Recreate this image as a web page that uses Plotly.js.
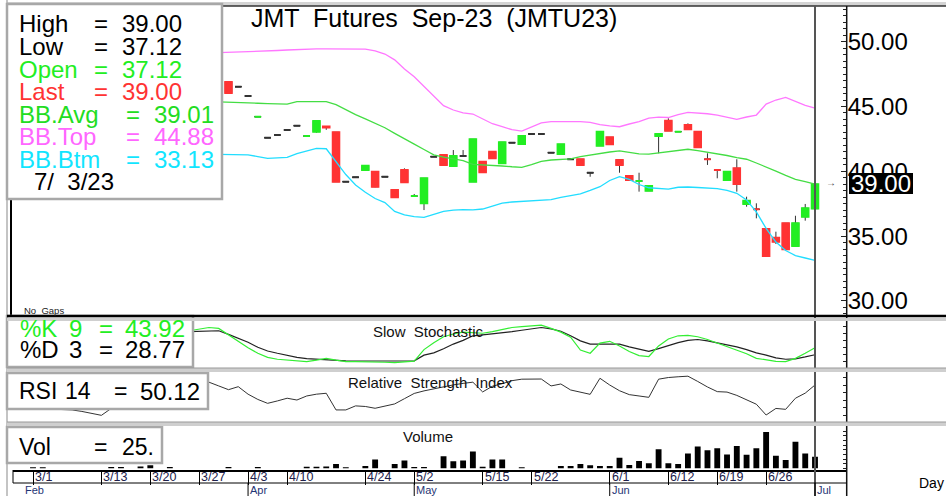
<!DOCTYPE html>
<html><head><meta charset="utf-8">
<script src="https://cdn.plot.ly/plotly-3.0.1.min.js"></script>
<style>html,body{margin:0;padding:0;background:#fff;overflow:hidden}#chart{width:946px;height:496px}</style>
</head><body><div id="chart"></div>
<script>
// ---------------- DATA ----------------
const candleIdx   = [20,21,22,23,24,25,26,27,28,29,30,31,32,33,34,35,36,37,38,39,40,41,42,43,44,45,46,47,48,49,50,51,52,53,54,55,56,57,58,59,60,61,62,63,64,65,66,67,68,69,70,71,72,73,74,75,76,77,78,79,80];
const candleOpen  = [46.90,46.53,45.81,44.21,42.59,42.80,43.19,43.52,42.72,43.06,43.45,43.01,39.20,39.54,40.10,39.97,39.58,38.56,40.10,38.09,37.53,41.13,41.26,40.41,41.18,39.20,40.74,41.51,40.62,42.21,42.11,42.88,42.88,41.44,41.33,40.93,40.93,39.89,41.98,42.62,40.87,39.64,39.25,38.50,42.72,43.90,43.06,43.57,43.06,40.93,40.10,39.33,40.23,37.48,37.07,35.55,34.88,35.99,34.24,36.50,37.12];
const candleHigh  = [46.90,46.53,45.81,44.21,42.59,42.80,43.19,43.52,42.72,43.88,43.45,43.01,39.20,39.54,40.43,39.97,39.58,38.56,40.23,38.25,39.46,41.13,41.26,41.64,41.64,42.47,40.74,41.51,42.24,42.21,42.72,42.88,42.88,41.44,42.08,40.93,40.93,39.89,43.06,42.62,40.87,39.64,39.89,38.87,42.88,44.09,43.06,43.70,43.06,41.39,40.10,39.97,40.93,38.04,37.53,35.55,35.34,35.99,36.57,37.48,39.00];
const candleLow   = [46.05,46.53,45.81,44.21,42.59,42.80,43.19,43.52,42.72,42.98,43.20,39.20,39.20,39.54,40.10,38.77,39.58,37.99,39.15,38.09,37.01,41.13,40.49,40.41,41.18,39.20,39.92,41.00,40.62,42.21,42.11,42.88,42.88,41.44,41.33,40.93,40.49,39.58,41.98,42.08,39.89,39.33,38.43,38.50,41.39,43.13,43.06,43.24,41.85,40.49,39.46,39.33,38.43,37.27,36.37,33.41,34.39,33.93,34.24,36.19,37.12];
const candleClose = [46.05,46.53,45.81,44.21,42.59,42.80,43.19,43.52,42.72,43.88,43.38,39.20,39.20,39.54,40.43,38.81,39.58,37.99,39.15,38.09,39.46,41.13,40.49,41.18,41.18,42.47,39.92,41.00,42.24,42.21,42.72,42.88,42.88,41.44,42.08,40.93,40.49,39.89,43.06,42.08,40.49,39.33,39.25,38.87,42.88,43.13,43.06,43.24,41.85,40.93,40.10,39.97,39.02,37.73,37.07,33.46,34.57,33.98,35.99,37.15,39.00];
const candleTone  = ['R','K','K','G','K','K','K','K','G','G','R','R','K','K','G','R','K','R','R','G','G','K','R','G','K','G','R','R','G','K','G','K','K','K','G','K','R','K','G','R','R','R','G','G','G','R','G','R','R','R','R','G','R','G','R','R','R','R','G','G','G'];

const bbIdx = [19,20,21,22,23,24,25,26,27,28,29,30,31,32,33,34,35,36,37,38,39,40,41,42,43,44,45,46,47,48,49,50,51,52,53,54,55,56,57,58,59,60,61,62,63,64,65,66,67,68,69,70,71,72,73,74,75,76,77,78,79,80];
const bbTop = [49.15,49.17,49.20,49.22,49.25,49.28,49.32,49.36,49.40,49.42,49.44,49.45,49.45,49.45,49.45,49.42,49.30,49.05,48.60,47.90,47.30,46.55,45.80,45.07,44.73,44.50,44.42,44.03,43.67,43.44,43.21,43.10,43.42,43.73,43.83,43.84,43.84,43.84,43.77,43.60,43.50,43.44,43.65,43.83,44.10,44.18,44.15,44.38,44.54,44.50,44.44,44.34,44.19,44.01,44.19,44.34,45.19,45.50,45.70,45.42,45.08,44.88];
const bbAvg = [45.36,45.32,45.29,45.27,45.25,45.22,45.21,45.19,45.37,45.37,45.37,45.37,45.14,44.73,44.37,44.04,43.70,43.36,42.93,42.49,42.10,41.68,41.27,41.10,40.99,40.83,40.54,40.51,40.47,40.41,40.35,40.31,40.52,40.76,40.87,40.91,40.96,41.13,41.26,41.37,41.49,41.58,41.45,41.35,41.33,41.43,41.50,41.62,41.70,41.60,41.49,41.37,41.22,41.06,40.93,40.64,40.35,40.02,39.68,39.38,39.20,39.01];
const bbBtm = [41.31,41.30,41.28,41.26,41.14,41.00,41.04,41.08,41.37,41.58,41.77,41.74,40.72,39.75,38.94,38.38,37.90,37.59,36.90,36.63,36.51,36.44,36.67,36.90,37.01,37.05,37.03,37.09,37.32,37.55,37.63,37.68,37.72,37.76,37.82,37.98,38.13,38.25,38.52,38.81,39.29,39.58,39.37,38.98,38.73,38.67,38.63,38.77,38.79,38.75,38.70,38.67,38.52,38.30,37.79,36.86,35.59,34.54,33.89,33.50,33.31,33.13];

const stochIdx = [16,17,18,19,20,21,22,23,24,25,26,27,28,29,30,31,32,33,34,35,36,37,38,39,40,41,42,43,44,45,46,47,48,49,50,51,52,53,54,55,56,57,58,59,60,61,62,63,64,65,66,67,68,69,70,71,72,73,74,75,76,77,78,79,80];
const stochK = [81,84,88,86,72,58,44,32,23,19,17,15,13.7,17,21,17,14,13.7,13.7,13.7,12.5,11.5,13,15,40,55,68,74,78,77,75.5,79,84,88,90,92,93,86,78,67,39,32,54,58,48,36,27,25,48,63,70,71,68,62,54,46,39,31,21,17,14.5,14,21,32,43.92];
const stochD = [79,80,80.5,81,73,65,56,45,37,32,27,23,20.5,19,17.5,16.5,15.5,15.2,15.2,15.2,15.2,15.2,15.2,15.5,28,33,42,52,60,70,72,74,76.5,79,82,85,88,85,80,70,59,52,52,52,52,46,41,36,42,49,55,60,62,59,55,51,46,40,33,28,22,19,20,24,28.77];

const rsiIdx = [0,1,2,3,4,5,6,7,8,9,10,11,12,13,14,15,16,17,18,19,20,21,22,23,24,25,26,27,28,29,30,31,32,33,34,35,36,37,38,39,40,41,42,43,44,45,46,47,48,49,50,51,52,53,54,55,56,57,58,59,60,61,62,63,64,65,66,67,68,69,70,71,72,73,74,75,76,77,78,79,80];
const rsiVal = [36,34.5,34,34,33.5,32.5,31.2,29.9,34.5,40,44,46,47,48,50,52,53,52.5,52,49.5,47,49,44,40.5,37.9,39.5,41.3,40.1,42.8,44,44.6,33.5,33.5,36.2,35.8,34.6,35.8,37.5,41,44.5,46.2,47.5,49.3,50.2,51.2,52,45.5,49.3,51,53,54,54.1,54.1,49.5,50.8,46.8,45.3,43.9,54.6,50.1,46.3,43.7,42.8,41.9,54,55.1,55.6,56,52.5,48.8,45.7,45.4,43.2,40.3,37.3,30.1,34.5,33.9,41.3,44.7,50.12];

const volIdx = [0,1,8,9,11,12,14,20,23,28,29,30,31,32,34,35,37,38,39,40,42,43,44,45,46,47,48,50,54,55,56,57,58,59,60,61,62,63,64,65,66,67,68,69,70,71,72,73,74,75,76,77,78,79,80];
const volVal = [2,2,3,3,4,6.5,3,3,3,3.5,3.5,4,9,2,5,19,9,17,3,3,26,15,17,36,3.5,19,19,2,5,5,9,6.5,5,5,23,7,16,11,41,11,9,32,47,39,43,30,48,29,43,78,27,18,57,32,25];

const dateIdx  = [0,7,12,17,22,26,34,39,46,51,59,65,70,75];
const dateText = ['3/1','3/13','3/20','3/27','4/3','4/10','4/24','5/2','5/15','5/22','6/1','6/12','6/19','6/26'];
const monthIdx  = [-1,22,39,59,80];
const monthText = ['Feb','Apr','May','Jun','Jul'];

const chartTitle = 'JMT  Futures  Sep-23  (JMTU23)';
const lastInfo = {high:'39.00', low:'37.12', open:'37.12', last:'39.00', avg:'39.01', top:'44.88', btm:'33.13', date:'7/  3/23'};
const stochInfo = {k:'43.92', d:'28.77'};
const rsiInfo = '50.12';
const volInfo = '25.';

// ---------------- LAYOUT HELPERS ----------------
const W = 946, H = 496;
const px = v => v / W;
const py = v => 1 - v / H;
const F = 'Liberation Sans, Arial, sans-serif';
const X0 = 33, DX = 9.775;          // pixel of bar 0, bar spacing
const XL = 13, XR = 846.7;          // plot left / right axis pixel
const xRange = [(XL - X0) / DX, (XR - X0) / DX];
const pAt = y => 50 - (y - 41.7) / 12.96;
const priceRange = [pAt(316), pAt(6)];
const stochRange = [0, (368 - 321) / 0.46];
const rsiRange = [50.12 - (423 - 385) / 1.5, 50.12 + (385 - 372) / 1.5];
const volRange = [-(470 - 468.3) / 0.464, (468.3 - 426) / 0.464];

const COL = {G:'#22ee22', R:'#ff3333', K:'#333333'};

// ---------------- TRACES ----------------
const traces = [];
traces.push({type:'scatter', mode:'lines', x:bbIdx, y:bbTop, xaxis:'x', yaxis:'y', line:{color:'#ff77ff', width:1.3}, hoverinfo:'skip'});
traces.push({type:'scatter', mode:'lines', x:bbIdx, y:bbAvg, xaxis:'x', yaxis:'y', line:{color:'#44dd44', width:1.3}, hoverinfo:'skip'});
traces.push({type:'scatter', mode:'lines', x:bbIdx, y:bbBtm, xaxis:'x', yaxis:'y', line:{color:'#22ddff', width:1.3}, hoverinfo:'skip'});

traces.push({type:'candlestick', x:candleIdx, open:candleOpen, high:candleHigh, low:candleLow, close:candleClose,
  xaxis:'x', yaxis:'y', whiskerwidth:0, hoverinfo:'skip',
  increasing:{line:{color:'#333', width:1}, fillcolor:'#333'},
  decreasing:{line:{color:'#333', width:1}, fillcolor:'#333'}});
['K','R','G'].forEach(t => {
  const ix=[], o=[], c=[], h=[], l=[];
  candleIdx.forEach((v,k) => {
    if (candleTone[k] !== t) return;
    ix.push(v); o.push(candleOpen[k]); c.push(candleClose[k]);
    h.push(Math.max(candleOpen[k], candleClose[k])); l.push(Math.min(candleOpen[k], candleClose[k]));
  });
  traces.push({type:'candlestick', x:ix, open:o, high:h, low:l, close:c, xaxis:'x', yaxis:'y', whiskerwidth:0, hoverinfo:'skip',
    increasing:{line:{color:COL[t], width:2}, fillcolor:COL[t]},
    decreasing:{line:{color:COL[t], width:2}, fillcolor:COL[t]}});
});

traces.push({type:'scatter', mode:'lines', x:stochIdx, y:stochD, xaxis:'x', yaxis:'y2', line:{color:'#222', width:1.2}, hoverinfo:'skip'});
traces.push({type:'scatter', mode:'lines', x:stochIdx, y:stochK, xaxis:'x', yaxis:'y2', line:{color:'#33ee33', width:1.2}, hoverinfo:'skip'});
traces.push({type:'scatter', mode:'lines', x:rsiIdx, y:rsiVal, xaxis:'x', yaxis:'y3', line:{color:'#333', width:1}, hoverinfo:'skip'});
traces.push({type:'bar', x:volIdx, y:volVal, xaxis:'x', yaxis:'y4', width:0.6, marker:{color:'#000', line:{width:0}}, hoverinfo:'skip'});

// ---------------- SHAPES ----------------
function rectP(x0,y0,x1,y1,fill,line,lw){return {type:'rect',xref:'paper',yref:'paper',x0:px(x0),x1:px(x1),y0:py(y1),y1:py(y0),fillcolor:fill,line:{color:line||fill,width:lw||0},layer:'above'};}
function lineP(x0,y0,x1,y1,color,w){return {type:'line',xref:'paper',yref:'paper',x0:px(x0),x1:px(x1),y0:py(y0),y1:py(y1),line:{color:color,width:w},layer:'above'};}

const shapes = [];
shapes.push(rectP(7,2,946,6,'#d4d4d4'));
shapes.push(lineP(7,6,946,6,'#333',1.5));
shapes.push(lineP(7,0,7,496,'#b0b0b0',1.5));
shapes.push(lineP(11,6,11,316,'#000',2));
shapes.push({type:'line',xref:'x',yref:'paper',x0:candleIdx[candleIdx.length-1],x1:candleIdx[candleIdx.length-1],y0:py(6),y1:py(496),line:{color:'#555',width:2},layer:'above'});
shapes.push(lineP(XR,6,XR,496,'#111',1.5));
shapes.push(rectP(7,4,222,199,'#fff','#a8a8a8',2.5));
shapes.push(rectP(7,316,193,367,'#fff','#a8a8a8',2.5));
shapes.push(rectP(7,373,208,409,'#fff','#a8a8a8',2.5));
shapes.push(rectP(7,427,162,463,'#fff','#a8a8a8',2.5));
shapes.push(lineP(7,316,946,316,'#000',2.5));
shapes.push(rectP(7,318,946,321,'#cfcfcf'));
shapes.push(rectP(7,368,946,372,'#cfcfcf'));
shapes.push(lineP(7,368,946,368,'#999',1));
shapes.push(rectP(7,422,946,426,'#cfcfcf'));
shapes.push(lineP(7,422,946,422,'#999',1));
shapes.push(lineP(XL,483,XR,483,'#000',1));
shapes.push(lineP(XL,470,XL,483,'#000',1));
monthIdx.forEach(m => { if (m >= 0) shapes.push({type:'line',xref:'x',yref:'paper',x0:m,x1:m,y0:py(483),y1:py(496),line:{color:'#000',width:1},layer:'above'}); });
shapes.push(rectP(849,173,913,194,'#000'));

// ---------------- ANNOTATIONS ----------------
function T(x,y,text,color,size,anchor){return {xref:'paper',yref:'paper',x:px(x),y:py(y),text:text,showarrow:false,xanchor:anchor||'left',yanchor:'middle',font:{family:F,size:size,color:color}};}
const ann = [];
ann.push(T(249,18,chartTitle,'#000',25));
const rows = [
  ['High','=',lastInfo.high,'#000',23.3,92,120],
  ['Low','=',lastInfo.low,'#000',46,92,120],
  ['Open','=',lastInfo.open,'#22ee22',69,92,120],
  ['Last','=',lastInfo.last,'#ff3333',91.5,92,120],
  ['BB.Avg','=',lastInfo.avg,'#22dd22',114.3,124,152],
  ['BB.Top','=',lastInfo.top,'#ff66ff',136.7,124,152],
  ['BB.Btm','=',lastInfo.btm,'#11e5ff',159.3,124,152]];
rows.forEach(r => { ann.push(T(17,r[4],r[0],r[3],24)); ann.push(T(r[5],r[4],r[1],r[3],24)); ann.push(T(r[6],r[4],r[2],r[3],24)); });
ann.push(T(32,181.7,lastInfo.date,'#000',24));
ann.push(T(18,328,'%K','#22ee22',24)); ann.push(T(67,328,'9','#22ee22',24)); ann.push(T(97,328,'=','#22ee22',24)); ann.push(T(123,328,stochInfo.k,'#22ee22',24));
ann.push(T(18,349.5,'%D','#000',24)); ann.push(T(67,349.5,'3','#000',24)); ann.push(T(97,349.5,'=','#000',24)); ann.push(T(123,349.5,stochInfo.d,'#000',24));
ann.push(T(17,391,'RSI','#000',23)); ann.push(T(63,391,'14','#000',23)); ann.push(T(112,391,'=','#000',23)); ann.push(T(138,391,rsiInfo,'#000',24));
ann.push(T(17,446.5,'Vol','#000',23)); ann.push(T(92,446.5,'=','#000',23)); ann.push(T(120,446.5,volInfo,'#000',23));
ann.push(T(371,331.5,'Slow  Stochastic','#111',15));
ann.push(T(346,382,'Relative  Strength  Index','#111',15));
ann.push(T(401,436.7,'Volume','#111',15));
ann.push(T(22,310.5,'No  Gaps','#222',9.5));
ann.push(T(849,183.5,lastInfo.last,'#fff',24));
ann.push(T(838,183,'→','#444',10,'right'));
ann.push(T(917,483,'Day','#000',14));
dateIdx.forEach((d,k) => ann.push({xref:'x',yref:'paper',x:d,y:py(476.5),text:dateText[k],showarrow:false,xanchor:'left',yanchor:'middle',font:{family:F,size:12.5,color:'#20204a'}}));
monthIdx.forEach((m,k) => ann.push({xref:'x',yref:'paper',x:m,y:py(490),text:monthText[k],showarrow:false,xanchor:'left',yanchor:'middle',font:{family:F,size:11,color:'#1f3575'}}));

// ---------------- LAYOUT ----------------
const yCommon = {anchor:'free', position:px(XR), side:'right', showline:false, showgrid:false, zeroline:false, fixedrange:true, ticks:'inside', tickcolor:'#222'};
const layout = {
  width:W, height:H, margin:{l:0,r:0,t:0,b:0}, paper_bgcolor:'#fff', plot_bgcolor:'#fff',
  showlegend:false, hovermode:false, dragmode:false, boxgap:0.33, boxgroupgap:0,
  xaxis:{domain:[px(XL), px(XR)], range:xRange, anchor:'y4', showline:true, linecolor:'#000', linewidth:1.5,
    ticks:'outside', ticklen:13, tickcolor:'#000', tickwidth:1, tickmode:'array', tickvals:dateIdx,
    showticklabels:false, showgrid:false, zeroline:false, fixedrange:true, rangeslider:{visible:false}},
  yaxis:Object.assign({}, yCommon, {domain:[py(316), py(6)], range:priceRange, dtick:5, tick0:0, ticklen:6,
    tickformat:'.2f', tickfont:{family:F, size:24, color:'#000'}, minor:{dtick:0.5, ticks:'inside', ticklen:4, tickcolor:'#222'}}),
  yaxis2:Object.assign({}, yCommon, {domain:[py(368), py(321)], range:stochRange, dtick:15, ticklen:4, showticklabels:false}),
  yaxis3:Object.assign({}, yCommon, {domain:[py(423), py(372)], range:rsiRange, dtick:5, ticklen:4, showticklabels:false}),
  yaxis4:Object.assign({}, yCommon, {domain:[py(470), py(426)], range:volRange, dtick:10, ticklen:4, showticklabels:false}),
  shapes:shapes, annotations:ann
};
Plotly.newPlot('chart', traces, layout, {staticPlot:true, displayModeBar:false});
</script></body></html>
